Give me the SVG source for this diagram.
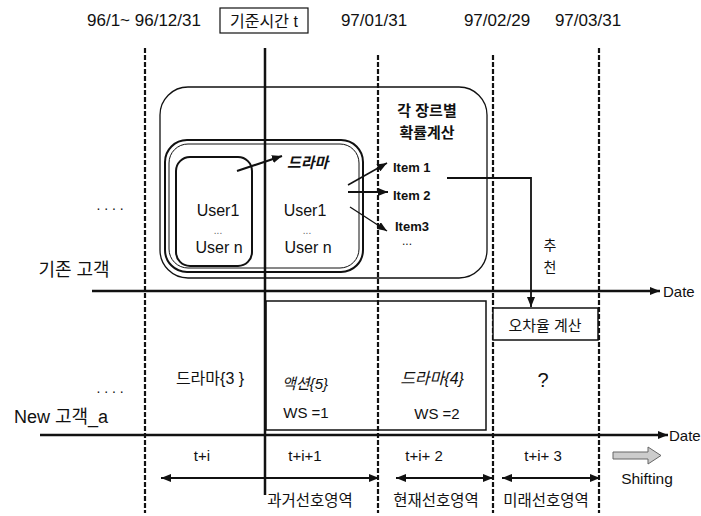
<svg xmlns="http://www.w3.org/2000/svg" width="701" height="516" viewBox="0 0 701 516">
<defs>
<style>
.t{font-family:"Liberation Sans","Noto Sans CJK KR",sans-serif;fill:#111;text-anchor:middle;dominant-baseline:central}
.s{text-anchor:start}
.b{font-weight:bold}
.i{font-style:italic}
.ln{stroke:#111;fill:none}
.dash{stroke:#111;fill:none;stroke-width:2.2;stroke-dasharray:5 2}
</style>
<marker id="ah" viewBox="0 0 10 8" refX="10" refY="4" markerWidth="10" markerHeight="8" markerUnits="userSpaceOnUse" orient="auto-start-reverse"><path d="M0,0 L10,4 L0,8 z" fill="#111"/></marker>
</defs>
<rect width="701" height="516" fill="#fff"/>

<g id="header">
<text class="t" x="144" y="20" font-size="17">96/1~ 96/12/31</text>
<rect x="220" y="8" width="88" height="25" fill="#fff" stroke="#111" stroke-width="1.2"/>
<text class="t" x="264" y="21" font-size="16">기준시간 t</text>
<text class="t" x="374" y="20" font-size="17">97/01/31</text>
<text class="t" x="497" y="20" font-size="17">97/02/29</text>
<text class="t" x="588" y="20" font-size="17">97/03/31</text>
</g>

<g id="timelines">
<line class="dash" x1="145" y1="48" x2="145" y2="513"/>
<line class="ln" x1="265" y1="48" x2="265" y2="495" stroke-width="2.5"/>
<line class="dash" x1="378" y1="55" x2="378" y2="513" stroke-width="1.8"/>
<line class="dash" x1="493" y1="55" x2="493" y2="513" stroke-width="1.8"/>
<line class="dash" x1="599" y1="48" x2="599" y2="513"/>
</g>

<g id="left-labels">
<text class="t" x="110" y="205" font-size="14">. . . .</text>
<text class="t" x="74" y="270" font-size="18">기존 고객</text>
<text class="t" x="110" y="388" font-size="14">. . . .</text>
<text class="t" x="61" y="417" font-size="18">New 고객_a</text>
</g>

<g id="genre-calc">
<rect x="160" y="87" width="327" height="191" rx="28" class="ln" stroke-width="1.3"/>
<text class="t b" x="427" y="110" font-size="15">각 장르별</text>
<text class="t b" x="427" y="132" font-size="15">확률계산</text>
</g>

<g id="users-group">
<rect x="165" y="140" width="198" height="132" rx="22" class="ln" stroke-width="2"/>
<rect x="169" y="144" width="190" height="124" rx="19" class="ln" stroke-width="1"/>
<text class="t" x="305" y="210" font-size="16" fill="#222">User1</text>
<text class="t" x="307" y="230" font-size="10" style="fill:#666">...</text>
<text class="t" x="308" y="247" font-size="16">User n</text>
<text class="t b i s" x="287" y="162" font-size="15">드라마</text>
</g>

<g id="users-past">
<rect x="176" y="157" width="76" height="109" rx="14" class="ln" stroke-width="2"/>
<text class="t" x="218" y="210" font-size="16">User1</text>
<text class="t" x="218" y="230" font-size="10" style="fill:#666">...</text>
<text class="t" x="219" y="247" font-size="16">User n</text>
</g>

<g id="items">
<text class="t b s" x="393" y="167" font-size="13">Item 1</text>
<text class="t b s" x="393" y="195" font-size="13">Item 2</text>
<text class="t b s" x="395" y="226" font-size="13">Item3</text>
<text class="t s" x="402" y="241" font-size="12">...</text>
</g>

<g id="recommend-label">
<text class="t" x="550" y="245" font-size="14">추</text>
<text class="t" x="550" y="267" font-size="14">천</text>
</g>

<g id="error-calc">
<rect x="493" y="308" width="105" height="32" fill="#fff" stroke="#111" stroke-width="1.5"/>
<text class="t" x="545" y="325" font-size="15">오차율 계산</text>
<text class="t" x="543" y="380" font-size="20">?</text>
</g>

<g id="new-customer">
<rect x="266" y="301" width="220" height="129" class="ln" stroke-width="1.5"/>
<text class="t" x="210" y="378" font-size="16">드라마{3 }</text>
<text class="t i" x="305" y="383" font-size="15">액션{5}</text>
<text class="t" x="306" y="412" font-size="15">WS =1</text>
<text class="t i" x="432" y="378" font-size="16">드라마{4}</text>
<text class="t" x="437" y="413" font-size="15">WS =2</text>
</g>

<g id="axis-labels">
<text class="t s" x="663" y="291" font-size="15">Date</text>
<text class="t s" x="669" y="435" font-size="15">Date</text>
<text class="t" x="202" y="455" font-size="15">t+i</text>
<text class="t" x="305" y="455" font-size="15">t+i+1</text>
<text class="t" x="424" y="455" font-size="15">t+i+ 2</text>
<text class="t" x="543" y="455" font-size="15">t+i+ 3</text>
<text class="t" x="310" y="500" font-size="15.5">과거선호영역</text>
<text class="t" x="436" y="500" font-size="15.5">현재선호영역</text>
<text class="t" x="546" y="500" font-size="15.5">미래선호영역</text>
<polygon points="613,452 648,452 648,447 661,455.5 648,464 648,459 613,459" fill="#ccc" stroke="#666" stroke-width="1"/>
<text class="t" x="647" y="478" font-size="15.5">Shifting</text>
</g>

<g id="connectors">
<line class="ln" x1="92" y1="291" x2="660" y2="291" stroke-width="2.5" marker-end="url(#ah)"/>
<line class="ln" x1="40" y1="435" x2="668" y2="435" stroke-width="2.5" marker-end="url(#ah)"/>
<line class="ln" x1="237" y1="171" x2="282" y2="156" stroke-width="2" marker-end="url(#ah)"/>
<line class="ln" x1="348" y1="185" x2="387" y2="163" stroke-width="1.5" marker-end="url(#ah)"/>
<line class="ln" x1="348" y1="192" x2="388" y2="192" stroke-width="2" marker-end="url(#ah)"/>
<line class="ln" x1="350" y1="207" x2="387" y2="231" stroke-width="1.3" marker-end="url(#ah)"/>
<path class="ln" d="M447,178 H531 V307" stroke-width="1.8" marker-end="url(#ah)"/>
<line class="ln" x1="161" y1="478" x2="379" y2="478" stroke-width="2" marker-start="url(#ah)" marker-end="url(#ah)"/>
<line class="ln" x1="396" y1="478" x2="493" y2="478" stroke-width="2" marker-start="url(#ah)" marker-end="url(#ah)"/>
<line class="ln" x1="502" y1="478" x2="600" y2="478" stroke-width="2" marker-start="url(#ah)" marker-end="url(#ah)"/>
</g>
</svg>
